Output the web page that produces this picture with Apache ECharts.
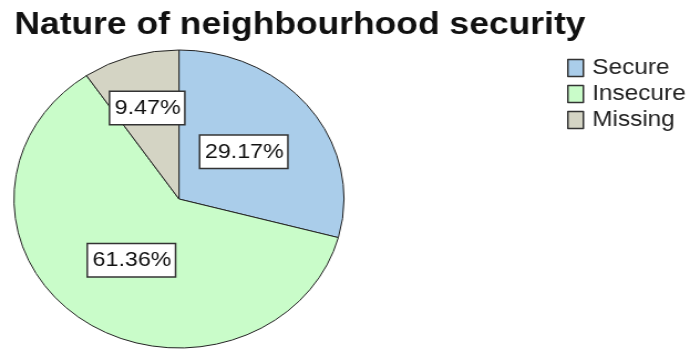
<!DOCTYPE html>
<html>
<head>
<meta charset="utf-8">
<script src="https://cdn.jsdelivr.net/npm/echarts@6/dist/echarts.min.js"></script>
<style>
  html, body { margin: 0; padding: 0; background: #fff; overflow: hidden; }
  #wrap { width: 688px; height: 349px; overflow: hidden; }
  /* chart is laid out narrower and stretched horizontally */
  #chart { width: 621px; height: 349px; transform: scaleX(1.1075); transform-origin: 0 0; }
</style>
</head>
<body>
<div id="wrap"><div id="chart"></div></div>
<script>
const titleText = 'Nature of neighbourhood security';
const categories = ['Secure', 'Insecure', 'Missing'];
const percents = [29.17, 61.36, 9.47];
const colors = ['#aacdea', '#c9fcc9', '#d4d4c4'];
// nudge for the small slice's label
const labelOffsets = [[-3, 0], [2, -2], [-6, -17]];

const chart = echarts.init(document.getElementById('chart'), null, { renderer: 'canvas' });

const font = '"Liberation Sans", Arial, sans-serif';

chart.setOption({
  animation: false,
  title: {
    text: titleText,
    left: 8,
    top: 4,
    textStyle: { fontFamily: font, fontWeight: 'bold', fontSize: 32, color: '#111' }
  },
  legend: {
    orient: 'vertical',
    left: 507,
    top: 52,
    itemWidth: 14,
    itemHeight: 17,
    itemGap: 4,
    icon: 'rect',
    data: categories,
    itemStyle: { borderColor: '#333', borderWidth: 1.5 },
    textStyle: { fontFamily: font, fontSize: 22, color: '#222', padding: [0, 0, 0, 3] }
  },
  series: [{
    type: 'pie',
    center: [161.6, 199],
    radius: [0, 149],
    startAngle: 90,
    clockwise: true,
    avoidLabelOverlap: false,
    emphasis: { disabled: true },
    itemStyle: { borderColor: '#222', borderWidth: 1 },
    label: {
      show: true,
      position: 'inside',
      formatter: p => p.value.toFixed(2) + '%',
      fontFamily: font,
      fontSize: 21,
      color: '#111',
      backgroundColor: '#fff',
      borderColor: '#333',
      borderWidth: 1.5,
      padding: [6, 3, 5, 4]
    },
    labelLine: { show: false },
    data: categories.map((c, i) => ({
      name: c,
      value: percents[i],
      itemStyle: { color: colors[i] },
      label: { offset: labelOffsets[i] }
    }))
  }]
});
</script>
</body>
</html>
